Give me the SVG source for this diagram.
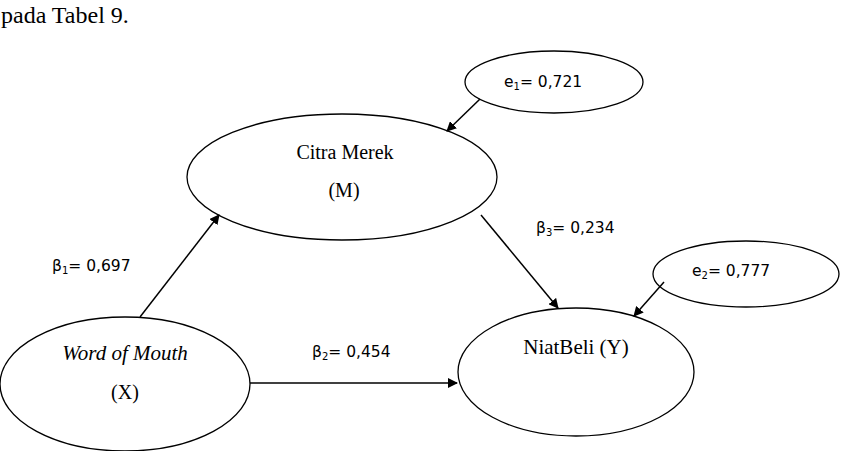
<svg xmlns="http://www.w3.org/2000/svg" width="841" height="451" viewBox="0 0 841 451">
<style>
.node{fill:#fff;stroke:#000;stroke-width:1.3}
.serif{font-family:"Liberation Serif",serif;fill:#000}
.sans{font-family:"DejaVu Sans","Liberation Sans",sans-serif;fill:#000;font-size:15.5px}
.conn line{stroke:#000;stroke-width:1.5;marker-end:url(#ah)}
</style>
<defs>
<marker id="ah" markerWidth="10" markerHeight="10" refX="9" refY="5" orient="auto" markerUnits="userSpaceOnUse">
<path d="M0,0 L10,5 L0,10 Z" fill="#000"/>
</marker>
</defs>
<rect width="841" height="451" fill="#fff"/>
<text class="serif" x="1" y="23" font-size="24">pada Tabel 9.</text>
<g id="citra">
<ellipse class="node" cx="342" cy="177" rx="155" ry="63"/>
<text class="serif" x="345" y="159" font-size="20" text-anchor="middle">Citra Merek</text>
<text class="serif" x="344" y="197" font-size="20" text-anchor="middle">(M)</text>
</g>
<g id="e1">
<ellipse class="node" cx="554" cy="82" rx="89" ry="31"/>
<text class="sans" x="504" y="87">e<tspan font-size="10" dy="3">1</tspan><tspan dy="-3">= 0,721</tspan></text>
</g>
<g id="wom">
<ellipse class="node" cx="125" cy="384" rx="125" ry="67"/>
<text class="serif" x="125" y="360" font-size="21" font-style="italic" text-anchor="middle">Word of Mouth</text>
<text class="serif" x="125" y="399" font-size="20" text-anchor="middle">(X)</text>
</g>
<g id="niat">
<ellipse class="node" cx="576" cy="372" rx="118" ry="64"/>
<text class="serif" x="576" y="354" font-size="21" text-anchor="middle">NiatBeli (Y)</text>
</g>
<g id="e2">
<ellipse class="node" cx="746" cy="274" rx="93" ry="33"/>
<text class="sans" x="692" y="276">e<tspan font-size="10" dy="3">2</tspan><tspan dy="-3">= 0,777</tspan></text>
</g>
<g class="conn" id="connectors">
<line x1="480" y1="99" x2="447" y2="131"/>
<line x1="140" y1="317" x2="219" y2="215"/>
<line x1="481" y1="215" x2="558" y2="308"/>
<line x1="664" y1="282" x2="634" y2="316"/>
<line x1="250" y1="383" x2="457" y2="383"/>
</g>
<g id="labels">
<text class="sans" x="52" y="271">β<tspan font-size="10" dy="3">1</tspan><tspan dy="-3">= 0,697</tspan></text>
<text class="sans" x="536" y="233">β<tspan font-size="10" dy="3">3</tspan><tspan dy="-3">= 0,234</tspan></text>
<text class="sans" x="312" y="357">β<tspan font-size="10" dy="3">2</tspan><tspan dy="-3">= 0,454</tspan></text>
</g>
</svg>
